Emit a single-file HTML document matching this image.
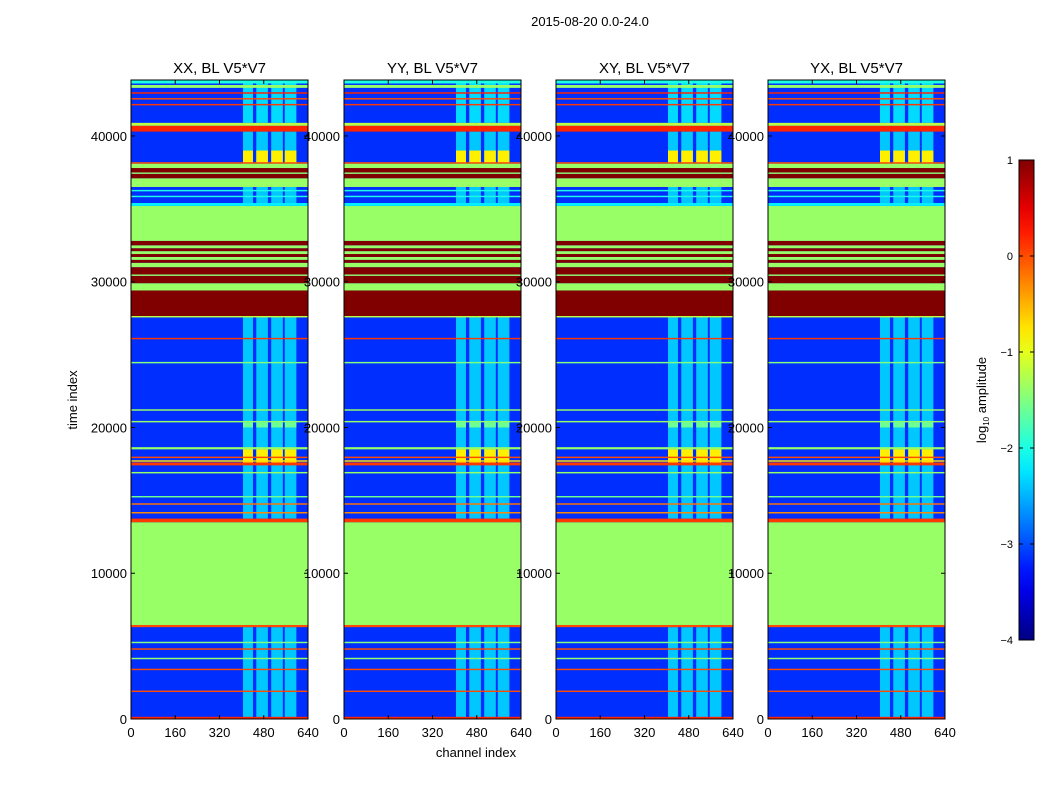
<!DOCTYPE html>
<html><head><meta charset="utf-8"><style>
body{margin:0;background:#fff;font-family:"Liberation Sans",sans-serif;}
svg text{font-family:"Liberation Sans",sans-serif;}
</style></head><body>
<svg id="fig" width="1050" height="800" xmlns="http://www.w3.org/2000/svg">
<rect width="1050" height="800" fill="#fff"/>
<text x="590" y="26" font-size="13" text-anchor="middle">2015-08-20 0.0-24.0</text>
<text x="476" y="757" font-size="13" text-anchor="middle">channel index</text>
<text transform="translate(77,400) rotate(-90)" font-size="13" text-anchor="middle">time index</text>
<text transform="translate(986,400) rotate(-90)" font-size="13" text-anchor="middle">log<tspan font-size="8" dy="3">10</tspan><tspan dy="-3"> amplitude</tspan></text>
<g id="panels"></g>
<g id="cbar"></g>
</svg>
<script>
const titles=["XX, BL V5*V7","YY, BL V5*V7","XY, BL V5*V7","YX, BL V5*V7"];
const panelLeft=[131,344,556,768];
const xTicks=[0,160,320,480,640];
const yTicks=[0,10000,20000,30000,40000];
const cbTicks=[1,0,-1,-2,-3,-4];
const baseValue=-3.15;
// horizontal bands (time start, time end, log10 amplitude)
const bandStart=[0,1850,3350,4750,4100,5200,6300,6450,13500,14100,14700,15200,16850,17400,17650,17900,18500,20350,21150,24400,26050,27550,27650,29400,29900,30400,30500,31000,31300,31500,31700,31900,32100,32300,32500,32800,35200,35800,36200,36500,37100,37400,37500,37800,38100,40300,40700,42100,42500,42900,43300,43600];
const bandEnd  =[150,1950,3450,4850,4200,5300,6450,13500,13750,14200,14800,15300,16950,17600,17750,18000,18650,20450,21250,24500,26150,27650,29400,29900,30400,30500,31000,31300,31500,31700,31900,32100,32300,32500,32800,35200,35400,35900,36300,37100,37400,37500,37800,38100,38200,40700,40900,42200,42600,43000,43500,43840];
const bandValue=[0.2,0,0,0,-1.4,-1.5,0,-1.375,0.1,-0.3,-0.2,-1.6,-1.375,0.1,-0.7,0,-1.375,-1.375,-1.375,-1.5,0.1,-1.2,1,-1.375,1,-1.375,1,-1.375,1,-1.375,1,-1.375,1,-1.375,1,-1.375,-2.2,-2,-2,-1.375,1,-1.375,1,-1.375,0,0.2,-1.2,0.1,0,0.2,-1.375,-2];
// bright channel columns
const colStart=[405,453,507,556];
const colEnd=[441,495,549,598];
// time ranges where columns show, with value
const colRangeStart=[0,13750,20000,17500,35400,38200,38100,40900];
const colRangeEnd=[6300,27550,20350,18500,36500,40300,39000,43840];
const colRangeValue=[-2.4,-2.4,-1.6,-0.8,-2.4,-2.4,-0.8,-2.3];
const tMax=43840;

function jet(v){
  let f=(v+4)/5; f=Math.max(0,Math.min(1,f));
  const c=x=>Math.round(255*Math.max(0,Math.min(1,x)));
  const r=c(Math.min(4*f-1.5,-4*f+4.5)),g=c(Math.min(4*f-0.5,-4*f+3.5)),b=c(Math.min(4*f+0.5,-4*f+2.5));
  return `rgb(${r},${g},${b})`;
}
const NS="http://www.w3.org/2000/svg";
function mk(tag,attrs,parent){const e=document.createElementNS(NS,tag);for(const k in attrs)e.setAttribute(k,attrs[k]);parent.appendChild(e);return e;}
const topY=80,botY=719,pw=177;
const yS=t=>botY-(t/tMax)*(botY-topY);
const panelsG=document.getElementById('panels');
panelLeft.forEach((L,pi)=>{
  const xS=c=>L+c/640*pw;
  const g=mk('g',{},panelsG);
  
  
  const bg=mk('rect',{x:L,y:topY,width:pw,height:botY-topY,fill:jet(baseValue)},g);
  
  
  colRangeStart.forEach((s,ri)=>{
    colStart.forEach((cs,ci)=>{
      const r=mk('rect',{x:xS(cs),y:yS(colRangeEnd[ri]),width:xS(colEnd[ci])-xS(cs),height:yS(s)-yS(colRangeEnd[ri]),fill:jet(colRangeValue[ri])},g);
      
      
    });
  });
  bandStart.forEach((s,bi)=>{
    const y1=yS(bandEnd[bi]),y2=yS(s);
    const r=mk('rect',{x:L,y:y1,width:pw,height:Math.max(1,y2-y1),fill:jet(bandValue[bi])},g);
    
    
  });
  const fr=mk('rect',{x:L,y:topY,width:pw,height:botY-topY,fill:'none',stroke:'#000','stroke-width':1},g);
  
  
  const tt=mk('text',{x:L+pw/2,y:73,'font-size':15,'text-anchor':'middle'},g);tt.textContent=titles[pi];
  
  
  xTicks.forEach(v=>{
    mk('line',{x1:xS(v),x2:xS(v),y1:botY,y2:botY-4,stroke:'#000'},g);
    mk('line',{x1:xS(v),x2:xS(v),y1:topY,y2:topY+4,stroke:'#000'},g);
    const t=mk('text',{x:xS(v),y:botY+18,'font-size':13,'text-anchor':'middle'},g);t.textContent=v;
    
    
  });
  yTicks.forEach(v=>{
    mk('line',{x1:L,x2:L+4,y1:yS(v),y2:yS(v),stroke:'#000'},g);
    mk('line',{x1:L+pw,x2:L+pw-4,y1:yS(v),y2:yS(v),stroke:'#000'},g);
    const t=mk('text',{x:L-4,y:yS(v)+5,'font-size':13,'text-anchor':'end'},g);t.textContent=v;
    
    
  });
});
// colorbar
const cb=document.getElementById('cbar');
const cbTop=160,cbBot=640,cbX=1019,cbW=15;
const cy=v=>cbBot-(v+4)/5*(cbBot-cbTop);
const defs=mk('defs',{},cb);
const grad=mk('linearGradient',{id:'jetg',x1:0,y1:1,x2:0,y2:0},defs);
for(let i=0;i<=20;i++){const v=-4+5*i/20;mk('stop',{offset:i/20,'stop-color':jet(v)},grad);}
const cbr=mk('rect',{x:cbX,y:cbTop,width:cbW,height:cbBot-cbTop,fill:'url(#jetg)',stroke:'#000'},cb);


cbTicks.forEach(v=>{
  mk('line',{x1:cbX,x2:cbX+4,y1:cy(v),y2:cy(v),stroke:'#000'},cb);
  mk('line',{x1:cbX+cbW,x2:cbX+cbW-4,y1:cy(v),y2:cy(v),stroke:'#000'},cb);
  const t=mk('text',{x:1013,y:cy(v)+4,'font-size':11,'text-anchor':'end'},cb);t.textContent=(v<0?'\u2212'+(-v):v);
  
  
});
</script>
</body></html>
